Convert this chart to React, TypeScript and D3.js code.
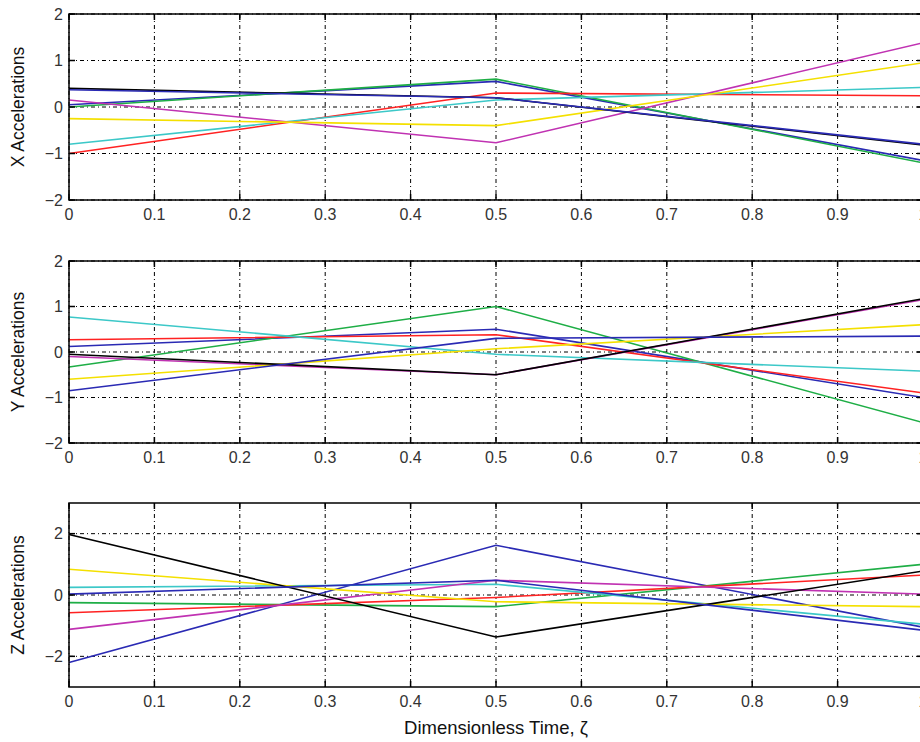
import React from "react";
import * as d3 from "d3";

// dimensionless time samples (corner points of each trajectory)
const zeta = [0, 0.5, 1];
const xTicks = [0, 0.1, 0.2, 0.3, 0.4, 0.5, 0.6, 0.7, 0.8, 0.9, 1];

// MATLAB colour order: b g r c m y k b
const lineColors = ["#2a2ab4", "#1eae46", "#ff2222", "#3cc8c8", "#c032b2", "#f4e000", "#000000", "#2a2ab4"];

const xAccel = [
  [0.05, 0.55, -1.15],
  [0.0, 0.6, -1.2],
  [-1.0, 0.3, 0.24],
  [-0.8, 0.15, 0.42],
  [0.15, -0.77, 1.38],
  [-0.25, -0.4, 0.95],
  [0.4, 0.2, -0.82],
  [0.37, 0.2, -0.8],
];
const yAccel = [
  [0.12, 0.5, -1.0],
  [-0.33, 1.0, -1.55],
  [0.27, 0.38, -0.9],
  [0.77, -0.05, -0.42],
  [-0.1, -0.5, 1.15],
  [-0.6, 0.07, 0.6],
  [-0.05, -0.5, 1.17],
  [-0.85, 0.3, 0.35],
];
const zAccel = [
  [-2.2, 1.62, -1.05],
  [-0.25, -0.38, 1.0],
  [-0.58, -0.08, 0.65],
  [0.25, 0.35, -0.95],
  [-1.12, 0.48, 0.03],
  [0.84, -0.22, -0.38],
  [1.97, -1.37, 0.78],
  [0.03, 0.48, -1.15],
];

const panels = [
  { label: "X Accelerations", data: xAccel, domain: [-2, 2], ticks: [-2, -1, 0, 1, 2], top: 14, bottom: 200 },
  { label: "Y Accelerations", data: yAccel, domain: [-2, 2], ticks: [-2, -1, 0, 1, 2], top: 261, bottom: 443 },
  { label: "Z Accelerations", data: zAccel, domain: [-3, 3], ticks: [-2, 0, 2], top: 503, bottom: 687 },
];

const W = 920;
const H = 742;
const left = 69;
const right = 923;
const font = "'Liberation Sans', Arial, Helvetica, sans-serif";
const fmt = (v: number) => (v < 0 ? "\u2212" + Math.abs(v) : String(v));

function Panel({ p }: { p: typeof panels[0] }) {
  const x = d3.scaleLinear().domain([0, 1]).range([left, right]);
  const y = d3.scaleLinear().domain(p.domain).range([p.bottom, p.top]);
  const line = d3.line<number>().x((d, i) => x(zeta[i])).y((d) => y(d));
  const dash = "4,3,1,3";
  return (
    <g>
      {/* grid */}
      {xTicks.map((t) => (
        <line key={"gx" + t} x1={x(t)} x2={x(t)} y1={p.top} y2={p.bottom} stroke="#000" strokeWidth={1} strokeDasharray={dash} />
      ))}
      {p.ticks.map((t) => (
        <line key={"gy" + t} x1={left} x2={right} y1={y(t)} y2={y(t)} stroke="#000" strokeWidth={1} strokeDasharray={dash} />
      ))}
      {/* series */}
      {p.data.map((s, i) => (
        <path key={"s" + i} d={line(s) || ""} fill="none" stroke={lineColors[i]} strokeWidth={1.6} />
      ))}
      {/* box */}
      <rect x={left} y={p.top} width={right - left} height={p.bottom - p.top} fill="none" stroke="#000" strokeWidth={1.5} />
      {/* ticks */}
      {xTicks.map((t) => (
        <g key={"tx" + t}>
          <line x1={x(t)} x2={x(t)} y1={p.bottom} y2={p.bottom - 6} stroke="#000" strokeWidth={1.5} />
          <line x1={x(t)} x2={x(t)} y1={p.top} y2={p.top + 6} stroke="#000" strokeWidth={1.5} />
          <text x={x(t)} y={p.bottom + 20} textAnchor="middle" fontSize={16} fill="#333" fontFamily={font}>
            {t}
          </text>
        </g>
      ))}
      {p.ticks.map((t) => (
        <g key={"ty" + t}>
          <line x1={left} x2={left + 6} y1={y(t)} y2={y(t)} stroke="#000" strokeWidth={1.5} />
          <line x1={right} x2={right - 6} y1={y(t)} y2={y(t)} stroke="#000" strokeWidth={1.5} />
          <text x={left - 6} y={y(t)} dy="0.35em" textAnchor="end" fontSize={16} fill="#333" fontFamily={font}>
            {fmt(t)}
          </text>
        </g>
      ))}
      <text
        transform={`translate(24,${(p.top + p.bottom) / 2}) rotate(-90)`}
        textAnchor="middle"
        fontSize={17.5}
        fill="#111"
        fontFamily={font}
      >
        {p.label}
      </text>
    </g>
  );
}

export default function App() {
  return (
    <svg width={W} height={H} style={{ position: "absolute", left: 0, top: 0, background: "#fff" }}>
      {panels.map((p) => (
        <Panel key={p.label} p={p} />
      ))}
      <text x={496} y={734} textAnchor="middle" fontSize={18.5} fill="#111" fontFamily={font}>
        Dimensionless Time, ζ
      </text>
    </svg>
  );
}
